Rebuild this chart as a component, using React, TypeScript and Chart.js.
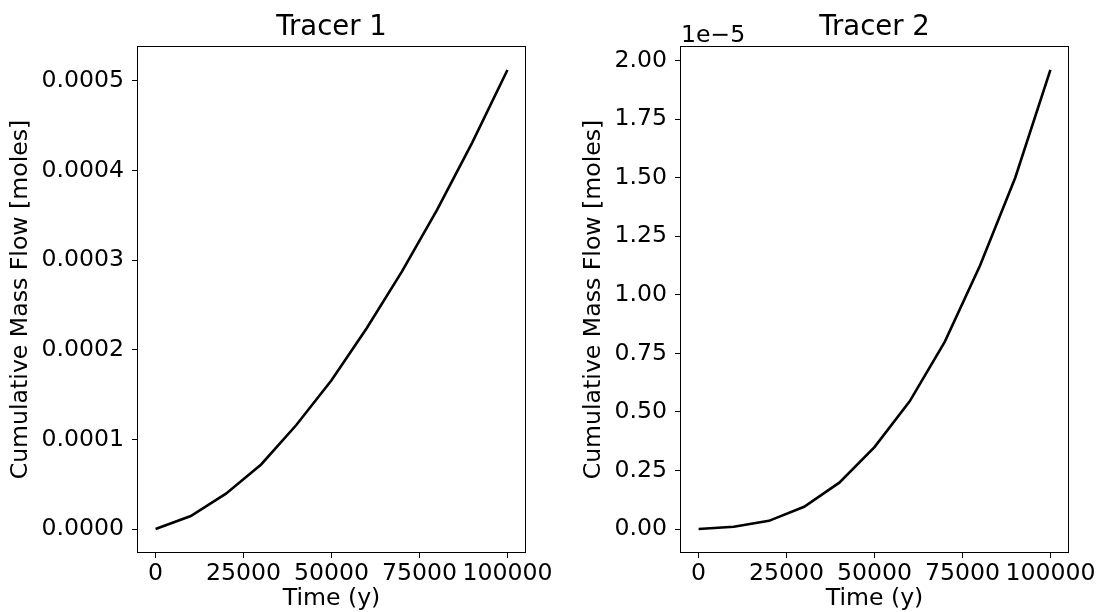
import React, { useEffect, useRef } from "react";
import { Chart, registerables } from "chart.js";

Chart.register(...registerables);

// ---- data ----
const times = [0, 10000, 20000, 30000, 40000, 50000, 60000, 70000, 80000, 90000, 100000];
const tracer1 = [0, 1.45e-5, 3.95e-5, 7.2e-5, 1.16e-4, 1.66e-4, 2.24e-4, 2.87e-4, 3.56e-4, 4.31e-4, 5.12e-4];
const tracer2 = [0, 0.01e-5, 0.035e-5, 0.095e-5, 0.198e-5, 0.35e-5, 0.545e-5, 0.8e-5, 1.125e-5, 1.5e-5, 1.96e-5];
const xTicks = [0, 25000, 50000, 75000, 100000];
const yTicks1 = [0, 0.0001, 0.0002, 0.0003, 0.0004, 0.0005];
const yTicks2 = [0, 0.25e-5, 0.5e-5, 0.75e-5, 1.0e-5, 1.25e-5, 1.5e-5, 1.75e-5, 2.0e-5];
const titles = ["Tracer 1", "Tracer 2"];
const xLabel = "Time (y)";
const yLabel = "Cumulative Mass Flow [moles]";
const offsetText2 = "1e\u22125";

const FONT = "'DejaVu Sans', 'Liberation Sans', sans-serif";
const FS = 23.6;
const TFS = 27.5;

const framePlugin = {
  id: "frame",
  afterDraw(chart: any) {
    const { ctx, chartArea: a } = chart;
    ctx.save();
    ctx.strokeStyle = "#000";
    ctx.lineWidth = 1;
    ctx.strokeRect(a.left - 0.5, a.top - 0.5, a.right - a.left + 1, a.bottom - a.top + 1);
    const txt = chart.options.plugins.offsetText?.text;
    if (txt) {
      ctx.fillStyle = "#000";
      ctx.font = `${FS}px ${FONT}`;
      ctx.textAlign = "left";
      ctx.textBaseline = "alphabetic";
      ctx.fillText(txt, a.left, a.top - 5.5);
    }
    ctx.restore();
  },
};

function range(vals: number[]) {
  const mn = Math.min(...vals);
  const mx = Math.max(...vals);
  const m = (mx - mn) * 0.05;
  return [mn - m, mx + m];
}

function makeConfig(
  values: number[],
  yTicks: number[],
  fmt: (v: number) => string,
  title: string,
  yWidth: number,
  padRight: number,
  offsetText: string
): any {
  const [xmin, xmax] = range(times);
  const [ymin, ymax] = range(values);
  return {
    type: "line",
    data: {
      datasets: [
        {
          data: times.map((t, i) => ({ x: t, y: values[i] })),
          borderColor: "#000",
          borderWidth: 2.6,
          pointRadius: 0,
          tension: 0,
          fill: false,
        },
      ],
    },
    options: {
      responsive: false,
      animation: false,
      devicePixelRatio: 1,
      layout: { padding: { left: 0, right: padRight, top: 0, bottom: 0 } },
      plugins: {
        legend: { display: false },
        tooltip: { enabled: false },
        title: {
          display: true,
          text: title,
          fullSize: false,
          color: "#000",
          font: { family: FONT, size: TFS, weight: "normal", lineHeight: 1.2 },
          padding: { top: 11, bottom: 3 },
        },
        offsetText: { text: offsetText },
      },
      scales: {
        x: {
          type: "linear",
          min: xmin,
          max: xmax,
          afterBuildTicks: (s: any) => {
            s.ticks = xTicks.map((v) => ({ value: v }));
          },
          afterFit: (s: any) => {
            s.height = 60;
            s.paddingLeft = 0;
            s.paddingRight = 0;
          },
          ticks: {
            color: "#000",
            font: { family: FONT, size: FS },
            padding: 2,
            maxRotation: 0,
            autoSkip: false,
            callback: (v: number) => String(v),
          },
          grid: {
            display: true,
            drawOnChartArea: false,
            drawTicks: true,
            tickLength: 6,
            tickColor: "#000",
            tickWidth: 1,
          },
          border: { display: false },
          title: {
            display: true,
            text: xLabel,
            color: "#000",
            font: { family: FONT, size: FS, lineHeight: 1.1 },
            padding: { top: 0, bottom: 0 },
          },
        },
        y: {
          type: "linear",
          min: ymin,
          max: ymax,
          afterBuildTicks: (s: any) => {
            s.ticks = yTicks.map((v) => ({ value: v }));
          },
          afterFit: (s: any) => {
            s.width = yWidth;
            s.paddingTop = 0;
            s.paddingBottom = 0;
          },
          ticks: {
            color: "#000",
            font: { family: FONT, size: FS },
            padding: 8,
            autoSkip: false,
            callback: (v: number) => fmt(v),
          },
          grid: {
            display: true,
            drawOnChartArea: false,
            drawTicks: true,
            tickLength: 6,
            tickColor: "#000",
            tickWidth: 1,
          },
          border: { display: false },
          title: {
            display: true,
            text: yLabel,
            color: "#000",
            font: { family: FONT, size: FS, lineHeight: 1.2 },
            padding: { top: 7, bottom: 0 },
          },
        },
      },
    },
    plugins: [framePlugin],
  };
}

export default function App() {
  const ref1 = useRef<HTMLCanvasElement>(null);
  const ref2 = useRef<HTMLCanvasElement>(null);

  useEffect(() => {
    const c1 = new Chart(
      ref1.current as HTMLCanvasElement,
      makeConfig(tracer1, yTicks1, (v) => v.toFixed(4), titles[0], 138, 48, "")
    );
    const c2 = new Chart(
      ref2.current as HTMLCanvasElement,
      makeConfig(tracer2, yTicks2, (v) => (v / 1e-5).toFixed(2), titles[1], 108, 31, offsetText2)
    );
    return () => {
      c1.destroy();
      c2.destroy();
    };
  }, []);

  return (
    <div
      style={{
        position: "fixed",
        left: 0,
        top: 0,
        width: 1099,
        height: 612,
        background: "#fff",
        overflow: "hidden",
      }}
    >
      <canvas
        ref={ref1}
        width={573}
        height={612}
        style={{ position: "absolute", left: 0, top: 0, width: 573, height: 612 }}
      />
      <canvas
        ref={ref2}
        width={526}
        height={612}
        style={{ position: "absolute", left: 573, top: 0, width: 526, height: 612 }}
      />
    </div>
  );
}
